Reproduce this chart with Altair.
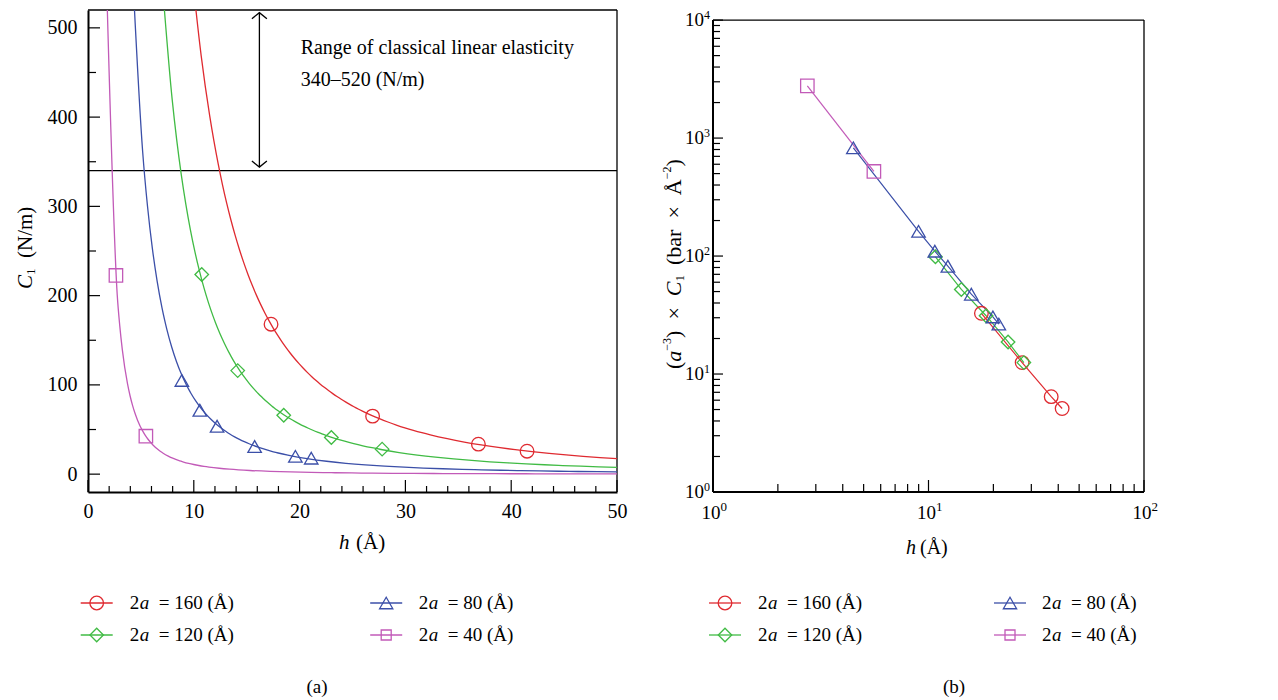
import altair as alt
import pandas as pd

FONT = "Liberation Serif"
INK = "#000000"

# ---------------- data ----------------
series = ["160", "120", "80", "40"]
colors = ["#df2a30", "#40bb44", "#3b4fa8", "#c25ab8"]
shapes = ["circle", "diamond", "triangle-up", "square"]
marker_sizes = [185, 180, 175, 100]

# panel (a): C1 (N/m) against h (Å)
a160_h = [17.3, 26.9, 36.9, 41.5]
a160_c = [168, 65, 33.6, 25.7]
a120_h = [10.75, 14.15, 18.5, 23.0, 27.8]
a120_c = [223.7, 116, 66, 41, 28]
a80_h = [4.48, 8.87, 10.57, 12.2, 15.75, 19.6, 21.1]
a80_c = [528, 105, 71.6, 53.7, 31, 20, 17.9]
a40_h = [2.64, 5.47]
a40_c = [222.6, 42.5]
# h where each fitted curve leaves the top of panel (a)
curve_start = [9.9, 7.1, 4.25, 1.8]

# panel (b): (a^-3) x C1 (bar x Å^-2) against h (Å)
b160_h = [17.6, 27.2, 37.1, 41.7]
b160_y = [32.7, 12.5, 6.43, 5.1]
b120_h = [10.77, 14.2, 18.5, 23.4, 27.7]
b120_y = [98.6, 52.1, 31.2, 18.7, 12.5]
b80_h = [4.48, 8.99, 10.7, 12.3, 15.8, 19.9, 21.2]
b80_y = [826, 162, 110, 82, 47.5, 30.5, 26.5]
b40_h = [2.74, 5.58]
b40_y = [2770, 521]

# annotation of panel (a)
elastic_low = 340
arrow_h = 16.2
arrow_lo, arrow_hi = 344, 517
note_h = 20.1
note_c = [470.5, 435]
note_lines = ["Range of classical linear elasticity", "340\u2013520 (N/m)"]

# ticks
xa_major = [0, 10, 20, 30, 40, 50]
xa_minor = [2, 4, 6, 8, 12, 14, 16, 18, 22, 24, 26, 28, 32, 34, 36, 38, 42, 44, 46, 48]
ya_major = [0, 100, 200, 300, 400, 500]
ya_minor = [50, 150, 250, 350, 450]
xb_major = [1, 10, 100]
xb_exp = ["0", "1", "2"]
xb_minor = [2, 3, 4, 5, 6, 7, 8, 9, 20, 30, 40, 50, 60, 70, 80, 90]
yb_major = [1, 10, 100, 1000, 10000]
yb_exp = ["0", "1", "2", "3", "4"]
yb_minor = [m * 10 ** k for k in range(4) for m in range(2, 10)]


def long_table(hs, vs, xf, yf):
    rows = []
    for s, h, v in zip(series, hs, vs):
        for a, b in zip(h, v):
            rows.append({xf: a, yf: b, "series": s})
    return pd.DataFrame(rows)


df_a = long_table([a160_h, a120_h, a80_h, a40_h], [a160_c, a120_c, a80_c, a40_c], "h", "C")
df_b = long_table([b160_h, b120_h, b80_h, b40_h], [b160_y, b120_y, b80_y, b40_y], "hb", "yb")
ONE = pd.DataFrame({"o": [0]})

# ---------------- layout ----------------
WA, HA = 529, 482
WB, HB = 431, 482
B_TOP = 10.1                      # px from the top of view (b) down to 10^4
yb_top = 10 ** (4 * HB / (HB - B_TOP))

color_scale = alt.Scale(domain=series, range=colors)
shape_scale = alt.Scale(domain=series, range=shapes)
size_scale = alt.Scale(domain=series, range=marker_sizes)


def txt(text, x, y, size=20, italic=False, angle=0, align="left", baseline="alphabetic"):
    return alt.Chart(ONE).mark_text(
        text=text, font=FONT, fontSize=size, fontStyle="italic" if italic else "normal",
        angle=angle, align=align, baseline=baseline, color=INK
    ).encode(x=alt.value(x), y=alt.value(y))


def legend_layers(centers, starts, rows):
    out = []
    for i, s in enumerate(series):
        cx = centers[i // 2]
        tx = starts[i // 2]
        y = rows[i % 2]
        out.append(alt.Chart(ONE).mark_rule(color=colors[i], strokeWidth=1.3).encode(
            x=alt.value(cx - 16), x2=alt.value(cx + 16), y=alt.value(y)))
        out.append(alt.Chart(ONE).mark_point(shape=shapes[i], size=marker_sizes[i], filled=False,
                                             color=colors[i], strokeWidth=1.3, opacity=1).encode(
            x=alt.value(cx), y=alt.value(y)))
        out.append(txt("2", tx, y + 6, 19))
        out.append(txt("a", tx + 10, y + 6, 19, italic=True))
        out.append(txt("= " + s + " (\u00c5)", tx + 29, y + 6, 19))
    return out


# ---------------- panel (a) ----------------
xa_scale = alt.Scale(domain=[0, 50], nice=False, zero=False)
ya_scale = alt.Scale(domain=[-20, 520], nice=False, zero=False)
axis_common = dict(ticks=False, tickSize=0, grid=False, title=None, labelFont=FONT, labelFontSize=20,
                   labelColor=INK, domainColor=INK, domainWidth=2, labelFlush=False, labelOverlap=False)
xa_axis = alt.Axis(values=xa_major, labelPadding=9, **axis_common)
ya_axis = alt.Axis(values=ya_major, labelPadding=11, **axis_common)


def XA(f="h"):
    return alt.X(f + ":Q", scale=xa_scale, axis=xa_axis)


def YA(f="C"):
    return alt.Y(f + ":Q", scale=ya_scale, axis=ya_axis)


a_layers = []
a_layers.append(alt.Chart(pd.DataFrame({"h": xa_major})).mark_rule(color=INK, strokeWidth=1.2).encode(
    x=XA(), y=alt.value(HA), y2=alt.value(HA - 12)))
a_layers.append(alt.Chart(pd.DataFrame({"h": xa_minor})).mark_rule(color=INK, strokeWidth=1.2).encode(
    x=XA(), y=alt.value(HA), y2=alt.value(HA - 6)))
a_layers.append(alt.Chart(pd.DataFrame({"C": ya_major})).mark_rule(color=INK, strokeWidth=1.2).encode(
    y=YA(), x=alt.value(0), x2=alt.value(12)))
a_layers.append(alt.Chart(pd.DataFrame({"C": ya_minor})).mark_rule(color=INK, strokeWidth=1.2).encode(
    y=YA(), x=alt.value(0), x2=alt.value(8)))
# top and right frame
a_layers.append(alt.Chart(pd.DataFrame({"h": [0, 50], "h2": [50, 50], "C": [520, -20], "C2": [520, 520]}))
                .mark_rule(color=INK, strokeWidth=1.3).encode(x=XA(), x2=alt.X2("h2:Q"), y=YA(), y2=alt.Y2("C2:Q")))
# elasticity limit and arrow
a_layers.append(alt.Chart(pd.DataFrame({"C": [elastic_low]})).mark_rule(color=INK, strokeWidth=1.4).encode(y=YA()))
a_layers.append(alt.Chart(pd.DataFrame({"h": [arrow_h], "C": [arrow_lo], "C2": [arrow_hi]}))
                .mark_rule(color=INK, strokeWidth=1.3).encode(x=XA(), y=YA(), y2=alt.Y2("C2:Q")))
a_layers.append(alt.Chart(pd.DataFrame({"h": [arrow_h], "C": [arrow_hi]}))
                .mark_point(shape="M-1,0.8L0,0L1,0.8", size=225, filled=False, color=INK, strokeWidth=1.3, opacity=1)
                .encode(x=XA(), y=YA()))
a_layers.append(alt.Chart(pd.DataFrame({"h": [arrow_h], "C": [arrow_lo]}))
                .mark_point(shape="M-1,-0.8L0,0L1,-0.8", size=225, filled=False, color=INK, strokeWidth=1.3, opacity=1)
                .encode(x=XA(), y=YA()))
a_layers.append(alt.Chart(pd.DataFrame({"h": [note_h, note_h], "C": note_c, "t": note_lines}))
                .mark_text(align="left", baseline="alphabetic", font=FONT, fontSize=20, color=INK)
                .encode(x=XA(), y=YA(), text="t:N"))
# fitted power-law curves (Vega regression) and data points
for s, st in zip(series, curve_start):
    a_layers.append(alt.Chart(df_a).transform_filter(alt.datum.series == s)
                    .transform_regression("h", "C", groupby=["series"], method="pow", extent=[st, 50])
                    .mark_line(clip=True, strokeWidth=1.3, interpolate="monotone")
                    .encode(x=XA(), y=YA(), color=alt.Color("series:N", scale=color_scale, legend=None)))
a_layers.append(alt.Chart(df_a).transform_filter("datum.C <= 520")
                .mark_point(filled=False, strokeWidth=1.3, opacity=1)
                .encode(x=XA(), y=YA(),
                        color=alt.Color("series:N", scale=color_scale, legend=None),
                        shape=alt.Shape("series:N", scale=shape_scale, legend=None),
                        size=alt.Size("series:N", scale=size_scale, legend=None)))
# axis titles
a_layers += [
    txt("C", -56, 279, 21, italic=True, angle=270),
    txt("1", -53, 265, 13, angle=270),
    txt("(N/m)", -56, 248, 21, angle=270),
    txt("h", 251, 539, 21, italic=True),
    txt("(\u00c5)", 268, 539, 21),
]
a_layers += legend_layers([8.7, 298.2], [41.7, 330.7], [593, 625])
a_layers.append(txt("(a)", 229, 683, 19, align="center"))

panel_a = alt.layer(*a_layers).properties(width=WA, height=HA)

# ---------------- panel (b) ----------------
xb_scale = alt.Scale(type="log", domain=[1, 100], nice=False)
yb_scale = alt.Scale(type="log", domain=[1, yb_top], nice=False)


def XB(f="hb"):
    return alt.X(f + ":Q", scale=xb_scale, axis=None)


def YB(f="yb"):
    return alt.Y(f + ":Q", scale=yb_scale, axis=None)


b_layers = []
b_layers.append(alt.Chart(pd.DataFrame({"hb": [1, 1], "hb2": [100, 1], "yb": [1, 1], "yb2": [1, 10000]}))
                .mark_rule(color=INK, strokeWidth=2).encode(x=XB(), x2=alt.X2("hb2:Q"), y=YB(), y2=alt.Y2("yb2:Q")))
b_layers.append(alt.Chart(pd.DataFrame({"hb": [1, 100], "hb2": [100, 100], "yb": [10000, 1], "yb2": [10000, 10000]}))
                .mark_rule(color=INK, strokeWidth=1.3).encode(x=XB(), x2=alt.X2("hb2:Q"), y=YB(), y2=alt.Y2("yb2:Q")))
b_layers.append(alt.Chart(pd.DataFrame({"hb": xb_major})).mark_rule(color=INK, strokeWidth=1.2).encode(
    x=XB(), y=alt.value(HB), y2=alt.value(HB - 12)))
b_layers.append(alt.Chart(pd.DataFrame({"hb": xb_minor})).mark_rule(color=INK, strokeWidth=1.2).encode(
    x=XB(), y=alt.value(HB), y2=alt.value(HB - 8)))
b_layers.append(alt.Chart(pd.DataFrame({"yb": yb_major})).mark_rule(color=INK, strokeWidth=1.2).encode(
    y=YB(), x=alt.value(0), x2=alt.value(10)))
b_layers.append(alt.Chart(pd.DataFrame({"yb": yb_minor})).mark_rule(color=INK, strokeWidth=1.2).encode(
    y=YB(), x=alt.value(0), x2=alt.value(7)))
# tick labels 10^k
b_layers.append(alt.Chart(pd.DataFrame({"hb": xb_major})).mark_text(
    text="10", align="center", baseline="alphabetic", dx=-2, font=FONT, fontSize=19, color=INK)
    .encode(x=XB(), y=alt.value(HB + 27)))
b_layers.append(alt.Chart(pd.DataFrame({"hb": xb_major, "e": xb_exp})).mark_text(
    align="left", baseline="alphabetic", dx=7.5, font=FONT, fontSize=13, color=INK)
    .encode(x=XB(), y=alt.value(HB + 19), text="e:N"))
b_layers.append(alt.Chart(pd.DataFrame({"yb": yb_major})).mark_text(
    text="10", align="right", baseline="alphabetic", dy=6, font=FONT, fontSize=19, color=INK)
    .encode(x=alt.value(-9), y=YB()))
b_layers.append(alt.Chart(pd.DataFrame({"yb": yb_major, "e": yb_exp})).mark_text(
    align="left", baseline="alphabetic", dy=-1.5, font=FONT, fontSize=12, color=INK)
    .encode(x=alt.value(-9), y=YB(), text="e:N"))
# data
b_layers.append(alt.Chart(df_b).mark_line(strokeWidth=1.2)
                .encode(x=XB(), y=YB(), color=alt.Color("series:N", scale=color_scale, legend=None)))
b_layers.append(alt.Chart(df_b).mark_point(filled=False, strokeWidth=1.3, opacity=1)
                .encode(x=XB(), y=YB(),
                        color=alt.Color("series:N", scale=color_scale, legend=None),
                        shape=alt.Shape("series:N", scale=shape_scale, legend=None),
                        size=alt.Size("series:N", scale=size_scale, legend=None)))
# axis titles: pieces laid along the rotated baseline (page y where each piece starts)
yt = [("(", 368, 0, 22, False), ("a", 360.7, 0, 22, True), ("\u22123", 349.7, -10, 12, False),
      (")", 336.9, 0, 22, False), ("\u00d7", 318.6, 0, 22, False), ("C", 295.2, 0, 22, True),
      ("1", 280.5, 3, 13, False), ("(bar", 264, 0, 22, False), ("\u00d7", 217.6, 0, 22, False),
      ("\u00c5", 194.2, 0, 22, False), ("\u22122", 178.3, -10, 12, False), (")", 165.5, 0, 22, False)]
for t, ys, sh, sz, it in yt:
    b_layers.append(txt(t, -32 + sh, ys - 9, sz, italic=it, angle=270))
b_layers += [txt("h", 193, 544, 20, italic=True), txt("(\u00c5)", 207, 544, 20)]
b_layers += legend_layers([12, 297], [45, 329], [593, 625])
b_layers.append(txt("(b)", 241, 683, 19, align="center"))

panel_b = alt.layer(*b_layers).properties(width=WB, height=HB)

chart = alt.hconcat(panel_a, panel_b, spacing=96, bounds="flush").resolve_scale(
    x="independent", y="independent", shape="shared", size="shared"
).configure_view(strokeWidth=0).properties(
    padding={"left": 7, "top": 0, "right": 5, "bottom": 0}
)

chart.save("out.html", embed_options={"renderer": "svg", "actions": False})
